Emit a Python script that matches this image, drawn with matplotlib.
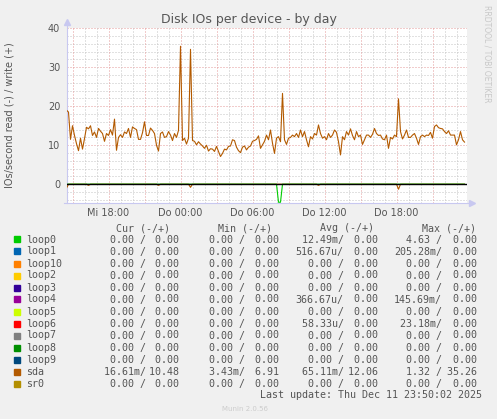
import matplotlib.pyplot as plt
import numpy as np
from matplotlib.patches import Rectangle

W, H = 497, 419

# sda writes (+), one value every 10 minutes starting Wed 14:30
sda_write = [
    19.0, 18.5, 11.5, 15.0, 12.5, 10.4, 8.6, 11.8, 9.0, 11.7,
    14.6, 14.2, 15.0, 12.5, 13.4, 12.0, 14.3, 13.6, 13.0, 11.0,
    13.0, 12.5, 14.0, 12.6, 16.7, 8.7, 12.0, 12.7, 12.0, 13.4,
    13.0, 14.3, 12.0, 14.7, 14.3, 14.0, 11.5, 11.5, 13.2, 16.0,
    12.5, 12.5, 14.4, 13.8, 13.0, 10.0, 8.5, 13.0, 13.4, 12.0,
    12.2, 13.5, 12.6, 11.2, 13.0, 12.0, 13.8, 35.4, 11.2, 11.8,
    10.3, 11.8, 34.6, 11.2, 11.0, 10.1, 10.9, 10.3, 9.8, 9.2,
    10.0, 8.5, 9.1, 9.0, 8.4, 9.7, 8.4, 7.1, 7.9, 9.0,
    8.8, 9.7, 9.8, 11.4, 11.2, 9.5, 8.6, 8.1, 9.5, 9.8,
    8.8, 9.5, 9.8, 11.0, 11.2, 11.5, 12.4, 9.2, 10.1, 11.0,
    12.6, 11.4, 13.9, 10.5, 7.9, 11.8, 12.2, 10.9, 23.3, 11.4,
    10.2, 11.8, 12.0, 12.6, 12.2, 13.0, 12.0, 13.9, 12.2, 13.5,
    11.4, 9.6, 12.2, 11.6, 13.0, 12.6, 15.2, 13.0, 11.8, 12.2,
    11.4, 13.0, 12.0, 12.6, 13.9, 13.3, 10.9, 7.5, 12.2, 11.4,
    13.5, 12.6, 14.2, 12.5, 11.4, 13.5, 12.2, 12.6, 10.2, 11.4,
    12.6, 12.6, 12.0, 12.8, 14.3, 13.0, 12.5, 12.6, 11.6, 11.4,
    12.6, 9.2, 12.0, 11.6, 12.6, 12.2, 21.9, 13.5, 11.6, 12.6,
    13.9, 12.0, 12.0, 12.6, 13.0, 11.8, 10.2, 12.2, 12.6, 12.2,
    12.6, 12.5, 13.3, 11.8, 14.8, 15.2, 14.5, 14.3, 14.2, 13.5,
    13.0, 13.7, 12.6, 12.6, 12.6, 10.1, 11.4, 13.5, 11.4, 10.8,
]
# reads (-): sample index and value
sda_read_idx = [0, 11, 46, 62, 126, 166]
sda_read_val = [1.0, 0.3, 0.3, 0.8, 0.3, 1.3]
loop0_read_idx = [106, 107]
loop0_read_val = [4.63, 4.63]

names = ['loop0', 'loop1', 'loop10', 'loop2', 'loop3', 'loop4', 'loop5',
         'loop6', 'loop7', 'loop8', 'loop9', 'sda', 'sr0']
colors = ['#00CC00', '#0066B3', '#FF8000', '#FFCC00', '#330099', '#990099',
          '#CCFF00', '#FF0000', '#808080', '#008F00', '#00487D', '#B35A00',
          '#B38F00']
cur_read = [0, 0, 0, 0, 0, 0, 0, 0, 0, 0, 0, 0.01661, 0]
cur_write = [0, 0, 0, 0, 0, 0, 0, 0, 0, 0, 0, 10.48, 0]
min_read = [0, 0, 0, 0, 0, 0, 0, 0, 0, 0, 0, 0.00343, 0]
min_write = [0, 0, 0, 0, 0, 0, 0, 0, 0, 0, 0, 6.91, 0]
avg_read = [0.01249, 0.00051667, 0, 0, 0, 0.00036667, 0, 0.00005833, 0, 0, 0, 0.06511, 0]
avg_write = [0, 0, 0, 0, 0, 0, 0, 0, 0, 0, 0, 12.06, 0]
max_read = [4.63, 0.20528, 0, 0, 0, 0.14569, 0, 0.02318, 0, 0, 0, 1.32, 0]
max_write = [0, 0, 0, 0, 0, 0, 0, 0, 0, 0, 0, 35.26, 0]

x_ticks = [3.5, 9.5, 15.5, 21.5, 27.5]
x_labels = ['Mi 18:00', 'Do 00:00', 'Do 06:00', 'Do 12:00', 'Do 18:00']

TXT = '#555555'
MAJ = '#e49a9a'
MIN = '#c4c4c4'
AXC = '#c8c8f0'


def fx(x):
    return x / W


def fy(y):
    return 1 - y / H


def si(v):
    if v == 0:
        return v, ' '
    if v < 1e-3:
        return v * 1e6, 'u'
    if v < 1:
        return v * 1e3, 'm'
    return v, ' '


fig = plt.figure(figsize=(W / 100, H / 100), dpi=100, facecolor='#f0f0f0')
L, R, T, B = 66.5, 466.5, 28.3, 202.7
ax = fig.add_axes([fx(L), fy(B), (R - L) / W, (B - T) / H])
ax.set_facecolor('white')
ax.set_xlim(0, 400 / 12)
ax.set_ylim(-4.75, 40)
for s in ax.spines.values():
    s.set_visible(False)

dots = (0, (1, 2))
for v in np.arange(-4, 41, 2):
    ax.axhline(v, color=MAJ if v % 10 == 0 else MIN, lw=0.72, ls=dots, zorder=1)
for h in np.arange(0.5, 33.4, 1):
    clock = int(round(14.5 + h)) % 24
    ax.axvline(h, color=MAJ if clock % 3 == 0 else MIN, lw=0.72, ls=dots, zorder=1)

t = np.arange(len(sda_write)) / 6.0
sda_read = np.zeros(len(sda_write))
sda_read[sda_read_idx] = sda_read_val
loop0_read = np.zeros(len(sda_write))
loop0_read[loop0_read_idx] = loop0_read_val

ax.plot(t, -sda_read, color='#B35A00', lw=0.8, zorder=3)
ax.plot(t, -loop0_read, color='#00CC00', lw=0.8, zorder=3)
ax.axhline(0, color='black', lw=1.0, zorder=4)
ax.plot(t, sda_write, color='#B35A00', lw=0.8, zorder=5)

# axes with arrows
ax.plot([0, 0], [0, 1 + 6 / 174.4], color=AXC, lw=0.8, transform=ax.transAxes, clip_on=False)
ax.plot([0], [1 + 6 / 174.4], marker='^', ms=4, color=AXC, transform=ax.transAxes, clip_on=False)
ax.plot([-3 / 400, 1 + 6 / 400], [0, 0], color=AXC, lw=0.8, transform=ax.transAxes, clip_on=False)
ax.plot([1 + 6 / 400], [0], marker='>', ms=4, color=AXC, transform=ax.transAxes, clip_on=False)

ax.set_yticks([0, 10, 20, 30, 40])
ax.set_xticks(x_ticks)
ax.set_xticklabels(x_labels)
ax.tick_params(length=0, labelsize=7, labelcolor=TXT)
ax.tick_params(axis='y', pad=4.5)
ax.tick_params(axis='x', pad=4)

fig.text(fx(248.5), fy(19), 'Disk IOs per device - by day', ha='center', va='center',
         fontsize=9, color=TXT)
fig.text(fx(10), fy(115.5), 'IOs/second read (-) / write (+)', rotation=90,
         ha='center', va='center', fontsize=7, color=TXT)
fig.text(fx(487), fy(5), 'RRDTOOL / TOBI OETIKER', rotation=270, ha='center', va='top',
         fontsize=5.5, color='#c8c8c8')

mono = 'DejaVu Sans Mono'
fs = 7.2
heads = ['Cur (-/+)', 'Min (-/+)', 'Avg (-/+)', 'Max (-/+)']
head_x = [115.5, 218.2, 320.5, 422.2]
for hx, hd in zip(head_x, heads):
    fig.text(fx(hx), fy(231), hd, family=mono, fontsize=fs, color=TXT, va='baseline')

x1 = [97.6, 196.6, 295.8, 394.0]
x2 = [148.6, 249.0, 347.6, 446.6]
for i, name in enumerate(names):
    yb = 242.5 + 12 * i
    fig.patches.append(Rectangle((fx(14), fy(yb)), 6 / W, 6 / H, color=colors[i],
                                 transform=fig.transFigure, figure=fig))
    fig.text(fx(26), fy(yb), name, family=mono, fontsize=fs, color=TXT, va='baseline')
    cols = [(cur_read, cur_write), (min_read, min_write), (avg_read, avg_write),
            (max_read, max_write)]
    for c, (rd, wr) in enumerate(cols):
        v, u = si(rd[i])
        fig.text(fx(x1[c]), fy(yb), '%6.2f%s/' % (v, u), family=mono, fontsize=fs,
                 color=TXT, va='baseline')
        v, u = si(wr[i])
        fig.text(fx(x2[c]), fy(yb), '%5.2f%s' % (v, u), family=mono, fontsize=fs,
                 color=TXT, va='baseline')

fig.text(fx(260.5), fy(398), 'Last update: Thu Dec 11 23:50:02 2025', family=mono,
         fontsize=fs, color=TXT, va='baseline')
fig.text(fx(222.5), fy(410.5), 'Munin 2.0.56', fontsize=5, color='#cccccc', va='baseline')

fig.savefig('out.png', dpi=100, facecolor=fig.get_facecolor())
